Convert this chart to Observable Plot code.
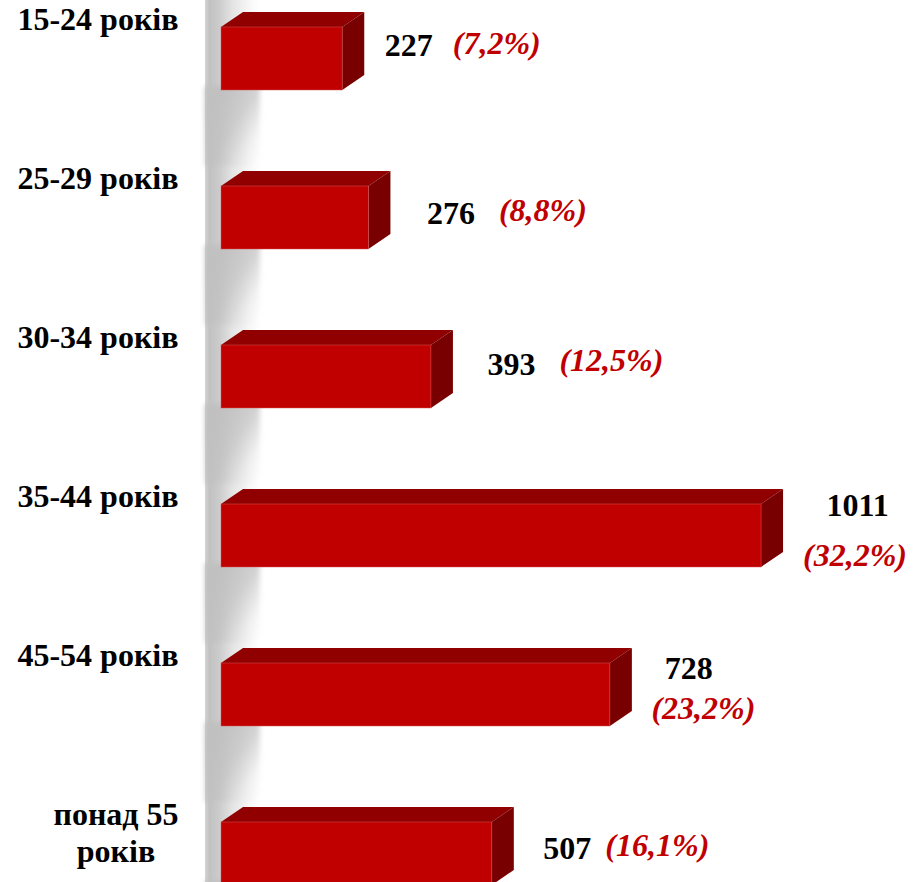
<!DOCTYPE html>
<html><head><meta charset="utf-8">
<script src="https://cdn.jsdelivr.net/npm/d3@7"></script>
<script src="https://cdn.jsdelivr.net/npm/@observablehq/plot@0.6"></script>
<style>body{margin:0;background:#fff}</style>
</head><body><div id="chart"></div>
<script>
// ---- data ----
const categories = ["15-24 років", "25-29 років", "30-34 років", "35-44 років", "45-54 років", "понад 55\nроків"];
const counts = [227, 276, 393, 1011, 728, 507];
const shares = ["(7,2%)", "(8,8%)", "(12,5%)", "(32,2%)", "(23,2%)", "(16,1%)"];

// ---- layout (separate from data): label offsets, px ----
const labelLayout = [
  {vdx: 42, vdy: -13.5, van: "start", pdx: 110, pdy: -15, pan: "start", cdx: -43, can: "end"},
  {vdx: 58, vdy: -4.5, van: "start", pdx: 130, pdy: -7.5, pan: "start", cdx: -43, can: "end"},
  {vdx: 56, vdy: -12.5, van: "start", pdx: 128, pdy: -16.5, pan: "start", cdx: -43, can: "end"},
  {vdx: 96, vdy: -30.5, van: "middle", pdx: 93.5, pdy: 19.5, pan: "middle", cdx: -43, can: "end"},
  {vdx: 78.5, vdy: -26.5, van: "middle", pdx: 93, pdy: 13.5, pan: "middle", cdx: -43, can: "end"},
  {vdx: 51, vdy: -5.5, van: "start", pdx: 113, pdy: -8.5, pan: "start", cdx: -105.5, can: "middle"}
];

const rows = categories.map((c, i) => ({cat: c, count: counts[i], share: shares[i]}));

const FRONT = 63, DX = 22, DY = 15;
const FONT = "'Liberation Serif', 'Times New Roman', serif";
const FS = 32;

function wallShadow(index, scales) {
  const x = scales.x, y = scales.y;
  const bw = y.bandwidth ? y.bandwidth() : 0;
  const x0 = x(0);
  const g = d3.create("svg:g");
  const defs = g.append("defs");
  const fl = defs.append("filter").attr("id", "blurS").attr("x", "-20%").attr("y", "-20%").attr("width", "140%").attr("height", "140%");
  fl.append("feGaussianBlur").attr("stdDeviation", 2.5);
  const gr = defs.append("linearGradient").attr("id", "gradBase").attr("x1", 0).attr("x2", 1).attr("y1", 0).attr("y2", 0);
  [[0, "#d4d4d4"], [0.08, "#c2c2c2"], [0.25, "#cbcbcb"], [0.5, "#e4e4e4"], [0.8, "#f7f7f7"], [1, "#ffffff"]]
    .forEach(([o, c]) => gr.append("stop").attr("offset", o).attr("stop-color", c));
  const left = x0 - 16, right = x0 + 39;
  g.append("rect").attr("x", left).attr("y", -20).attr("width", right - left).attr("height", 1000)
    .attr("fill", "url(#gradBase)");
  rows.forEach((d, i) => {
    const yc = y(d.cat) + bw / 2, b = yc + FRONT / 2;
    const id = "gradSh" + i;
    const gd = defs.append("linearGradient").attr("id", id).attr("gradientUnits", "userSpaceOnUse")
      .attr("x1", x0 - 6).attr("y1", b + 8).attr("x2", x0 + 54).attr("y2", b + 51);
    [[0, 0.95], [0.4, 0.7], [0.75, 0.15], [1, 0]].forEach(([o, a]) =>
      gd.append("stop").attr("offset", o).attr("stop-color", "#c0c0c0").attr("stop-opacity", a));
    g.append("rect").attr("x", left).attr("y", b - 4).attr("width", right - left).attr("height", 80)
      .attr("fill", `url(#${id})`).attr("filter", "url(#blurS)");
  });
  return g.node();
}

function boxFaces(index, scales) {
  const x = scales.x, y = scales.y;
  const bw = y.bandwidth ? y.bandwidth() : 0;
  const g = d3.create("svg:g");
  rows.forEach(d => {
    const x0 = x(0), x1 = x(d.count);
    const yc = y(d.cat) + bw / 2, t = yc - FRONT / 2, b = yc + FRONT / 2;
    g.append("path").attr("d", `M${x0},${t}L${x0 + DX},${t - DY}L${x1 + DX},${t - DY}L${x1},${t}Z`).attr("fill", "#900000");
    g.append("path").attr("d", `M${x1},${t}L${x1 + DX},${t - DY}L${x1 + DX},${b - DY}L${x1},${b}Z`).attr("fill", "#780000");
  });
  return g.node();
}

const marks = [
  wallShadow,
  boxFaces,
  Plot.barX(rows, {x: "count", y: "cat", fill: "#c00000", insetTop: 48, insetBottom: 48,
    stroke: "#d65454", strokeWidth: 0.8, strokeOpacity: 0.6})
];
rows.forEach((d, i) => {
  const L = labelLayout[i];
  marks.push(Plot.text([d], {x: d => 0, y: "cat", text: "cat", textAnchor: L.can, lineAnchor: "top",
    dx: L.cdx, dy: -55, fontSize: FS, fontWeight: "bold", fill: "black", lineHeight: 1.16}));
  marks.push(Plot.text([d], {x: "count", y: "cat", text: d => String(d.count), textAnchor: L.van,
    dx: L.vdx, dy: L.vdy, fontSize: FS, fontWeight: "bold", fill: "black"}));
  marks.push(Plot.text([d], {x: "count", y: "cat", text: "share", textAnchor: L.pan,
    dx: L.pdx, dy: L.pdy, fontSize: FS, fontWeight: "bold", fontStyle: "italic", fill: "#c00000"}));
});

const chart = Plot.plot({
  width: 918,
  height: 882,
  marginLeft: 221,
  marginRight: 56,
  marginTop: 0,
  marginBottom: 0,
  x: {domain: [0, 1200], axis: null},
  y: {domain: categories, range: [-21, 933], padding: 0, axis: null},
  style: {fontFamily: FONT, background: "white", overflow: "hidden"},
  marks
});
document.getElementById("chart").appendChild(chart);
</script>
</body></html>
